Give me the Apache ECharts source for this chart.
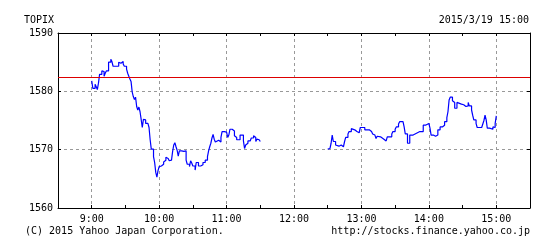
<!DOCTYPE html>
<html>
<head>
<meta charset="utf-8">
<script src="https://cdn.jsdelivr.net/npm/echarts@6/dist/echarts.min.js"></script>
<style>html,body{margin:0;padding:0;background:#fff;}#c{width:551px;height:248px;}</style>
</head>
<body>
<div id="c"></div>
<script>
// minutes after 9:00 and index values
const amTime = [0,1,3,4,5,6,7,9,10,11,12,13,15,17,18,19,21,22,24,25,26,28,29,31,32,33,34,35,36,37,38,39,40,41,42,43,44,45,46,47,48,50,51,52,53,55,56,57,58,59,60,61,62,63,64,65,66,67,68,69,70,71,72,73,74,75,76,77,78,80,81,82,83,84,85,87,88,89,90,92,93,95,97,99,101,103,104,105,106,107,108,109,110,111,113,114,115,116,118,120,121,122,123,125,126,127,128,129,132,135,136,137,138,139,141,142,144,145,146,147,148,149,150];
const amValue = [1581.8,1580.5,1581.2,1580.8,1580.3,1581.4,1582.9,1583.5,1583.4,1582.6,1583.1,1583.5,1585.0,1585.5,1585.1,1584.3,1584.0,1584.3,1585.0,1584.8,1585.1,1584.7,1584.3,1583.8,1583.1,1582.6,1582.1,1581.7,1579.9,1579.1,1578.6,1579.0,1577.4,1576.8,1577.3,1576.5,1575.2,1573.8,1575.2,1575.1,1574.5,1574.2,1573.8,1571.7,1570.1,1568.8,1567.8,1566.1,1565.3,1566.4,1567.1,1567.2,1567.4,1567.5,1567.9,1568.2,1568.7,1568.5,1568.3,1568.1,1568.2,1568.3,1569.7,1570.8,1571.2,1570.5,1569.9,1568.9,1569.8,1569.9,1569.7,1569.9,1569.8,1568.2,1567.5,1567.1,1568.1,1567.7,1567.2,1566.5,1567.8,1567.2,1567.4,1567.8,1568.2,1568.8,1569.8,1570.5,1571.1,1572.0,1572.6,1571.8,1571.3,1571.6,1571.5,1571.3,1572.1,1573.1,1573.0,1572.8,1572.1,1572.5,1573.5,1573.8,1573.2,1572.4,1572.1,1571.7,1572.5,1571.5,1570.2,1570.8,1571.1,1571.5,1571.8,1572.0,1572.4,1572.1,1571.4,1571.8,1571.7,1571.4,1571.3];
const pmTime = [210,211,212,213,214,215,217,218,220,221,222,224,225,226,228,229,231,232,234,236,238,239,243,247,249,250,251,252,253,254,255,257,258,260,262,263,267,268,270,271,273,274,277,278,279,281,283,286,289,292,293,295,297,300,301,302,304,306,308,310,312,314,316,317,318,319,321,322,323,325,326,329,331,333,335,336,338,339,340,342,343,347,348,349,350,351,352,354,357,358,359,360];
const pmValue = [1570.1,1570.2,1570.5,1571.1,1572.5,1571.4,1570.8,1570.6,1570.4,1570.8,1570.5,1570.4,1571.4,1572.1,1572.7,1573.1,1573.6,1573.4,1573.1,1572.9,1573.1,1573.8,1573.4,1573.1,1572.9,1572.7,1572.5,1572.3,1571.9,1572.3,1572.2,1571.9,1571.8,1571.5,1571.8,1572.2,1572.7,1573.1,1573.5,1573.9,1574.4,1574.8,1574.6,1573.9,1572.7,1571.1,1572.5,1572.8,1573.1,1572.9,1573.1,1574.2,1574.5,1574.3,1573.7,1572.5,1572.3,1572.5,1573.4,1573.9,1574.2,1574.8,1575.5,1576.5,1578.5,1579.0,1578.4,1578.1,1577.1,1578.1,1577.8,1577.7,1577.4,1577.5,1578.1,1577.5,1576.8,1575.9,1575.1,1574.5,1573.8,1573.5,1574.4,1575.0,1575.9,1575.1,1573.7,1573.5,1573.9,1573.8,1574.5,1575.8];
const prevClose = 1582.4;
const xTickLabels = ['9:00','10:00','11:00','12:00','13:00','14:00','15:00'];
const yTicks = [1560,1570,1580,1590];

const FONT = 'DejaVu Sans Mono';
const pair = (t, v) => t.map((x, i) => [x, v[i]]);
const txt = { fontFamily: FONT, fontSize: 10, color: '#000', fontWeight: 'normal' };

const xBase = {
  type: 'value', min: -30, max: 390, interval: 30,
  axisLine: { show: true, onZero: false, lineStyle: { color: '#000', width: 1 } },
  axisTick: { show: true, inside: true, length: 3, lineStyle: { color: '#000' } }
};
const yBase = {
  type: 'value', min: yTicks[0], max: yTicks[yTicks.length - 1], interval: 10,
  axisLine: { show: true, onZero: false, lineStyle: { color: '#000', width: 1 } },
  axisTick: { show: true, inside: true, length: 3, lineStyle: { color: '#000' } }
};

const chart = echarts.init(document.getElementById('c'), null, { renderer: 'canvas' });
chart.setOption({
  animation: false,
  backgroundColor: '#fff',
  title: [
    { text: 'TOPIX', left: 24, top: 15, padding: 0, textStyle: txt },
    { text: '2015/3/19 15:00', right: 22, top: 15, padding: 0, textStyle: txt },
    { text: '(C) 2015 Yahoo Japan Corporation.', left: 25, top: 226, padding: 0, textStyle: txt },
    { text: 'http://stocks.finance.yahoo.co.jp', right: 21, top: 226, padding: 0, textStyle: txt }
  ],
  grid: { left: 58, right: 21, top: 33, bottom: 40, containLabel: false },
  xAxis: [
    Object.assign({}, xBase, {
      position: 'bottom',
      axisLabel: {
        fontFamily: FONT, fontSize: 10, color: '#000', margin: 6,
        formatter: v => (v >= 0 && v % 60 === 0) ? (xTickLabels[v / 60] || '') : ''
      },
      splitLine: { show: true, lineStyle: { color: ['transparent', '#999'], type: [3, 3], width: 1 } }
    }),
    Object.assign({}, xBase, {
      position: 'top',
      axisLabel: { show: false },
      splitLine: { show: false }
    })
  ],
  yAxis: [
    Object.assign({}, yBase, {
      position: 'left',
      axisLabel: { fontFamily: FONT, fontSize: 10, color: '#000', margin: 5, formatter: v => String(v) },
      splitLine: { show: true, lineStyle: { color: '#999', type: [3, 3], width: 1 } }
    }),
    Object.assign({}, yBase, {
      position: 'right',
      axisLabel: { show: false },
      splitLine: { show: false }
    })
  ],
  series: [
    {
      type: 'line', step: 'end', data: pair(amTime, amValue), showSymbol: false,
      lineStyle: { color: '#0000ff', width: 1.2 }, z: 3,
      markLine: {
        silent: true, symbol: 'none', label: { show: false },
        lineStyle: { color: '#dd0000', width: 1, type: 'solid' },
        data: [{ yAxis: prevClose }]
      }
    },
    {
      type: 'line', step: 'end', data: pair(pmTime, pmValue), showSymbol: false,
      lineStyle: { color: '#0000ff', width: 1.2 }, z: 3
    }
  ]
});
</script>
</body>
</html>
